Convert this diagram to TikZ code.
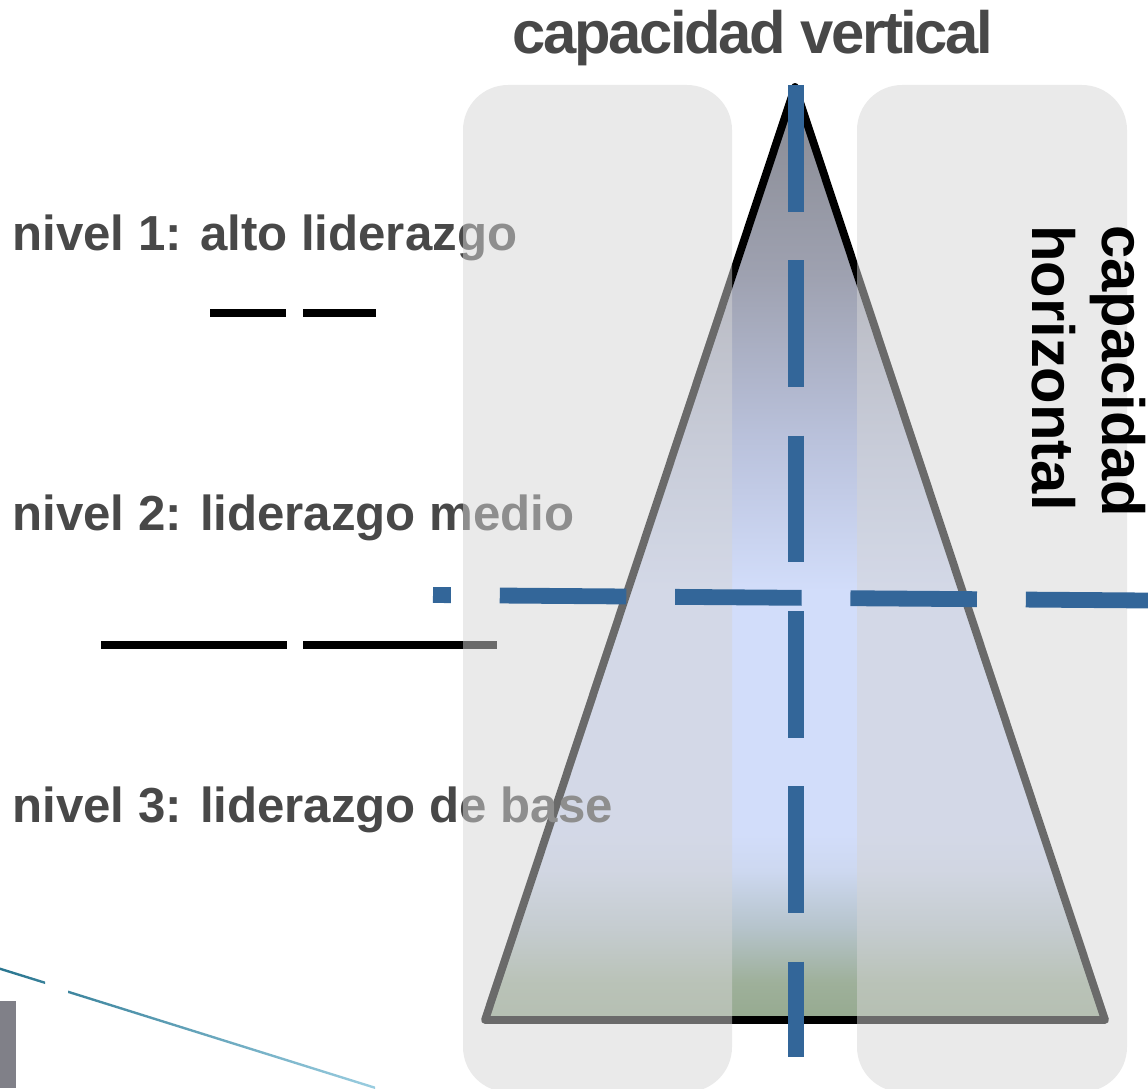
\documentclass[tikz,border=0pt]{standalone}
\usepackage{fontspec}
\setmainfont{Liberation Sans}
\usetikzlibrary{positioning}
\definecolor{txtgray}{HTML}{484848}
\definecolor{dashblue}{HTML}{336699}
\definecolor{veil}{HTML}{D5D5D5}
\definecolor{tritop}{HTML}{888A92}
\definecolor{triupper}{HTML}{9EA1B0}
\definecolor{trimid}{HTML}{BAC2DC}
\definecolor{trilight}{HTML}{D2DDFA}
\definecolor{trilow}{HTML}{CDD8F0}
\definecolor{trisage}{HTML}{B6C4CC}
\definecolor{trimoss}{HTML}{9EB09A}
\definecolor{trigreen}{HTML}{96AA90}
\definecolor{fragdark}{HTML}{2A7690}
\definecolor{fraglight}{HTML}{9ACDE0}
\definecolor{fraggray}{HTML}{808088}
\pgfdeclareverticalshading{pyramid}{100bp}{color(0bp)=(trigreen); color(25bp)=(trigreen);
  color(27bp)=(trimoss); color(30bp)=(trisage); color(33bp)=(trilow); color(35bp)=(trilight);
  color(48bp)=(trilight); color(56bp)=(trimid); color(65bp)=(triupper); color(75bp)=(tritop);
  color(100bp)=(tritop)}
\tikzset{
    level/.style={anchor=base west, text=txtgray, font=\fontsize{28}{32}\selectfont\bfseries, inner sep=0pt},
    levelbar/.style={line width=5pt},
    veilbox/.style={fill=veil, opacity=0.5, rounded corners=0.9cm},
    capdash/.style={dashblue, line width=9pt, dash pattern=on 72pt off 27.8pt},
    frag/.style={left color=fragdark, right color=fraglight, draw=none}
}

\begin{document}
\begin{tikzpicture}[x=0.02cm, y=-0.02cm]
    \useasboundingbox (0,0) rectangle (1148,1088);
    \coordinate (apex) at (795,87);
    \coordinate (bl) at (485,1020);
    \coordinate (br) at (1105,1020);
    \coordinate (vtop) at (796,85);
    \coordinate (vbot) at (796,1057);
    \coordinate (hleft) at (433,595);
    \coordinate (hright) at (1148,600.5);
    % pyramid
    \shade[shading=pyramid] (apex) -- (br) -- (bl) -- cycle;
    \draw[line width=4.5pt, line join=round] (apex) -- (br) -- (bl) -- cycle;
    % levels
    \node[level] (n1) at (12,250) {nivel 1: alto liderazgo};
    \node[level] (n2) at (12,530) {nivel 2: liderazgo medio};
    \node[level] (n3) at (12,822) {nivel 3: liderazgo de base};
    \draw[levelbar] (210,313) -- (286,313);
    \draw[levelbar] (303,313) -- (376,313);
    \draw[levelbar] (101,645) -- (287,645);
    \draw[levelbar] (303,645) -- (497,645);
    % veils
    \fill[veilbox] (463,85) rectangle (732,1092);
    \fill[veilbox] (857,85) rectangle (1127,1092);
    % axes
    \draw[capdash] (vtop) -- (vbot);
    \draw[capdash, dash phase=61.8pt] (hleft) -- (hright);
    \node[font=\fontsize{34}{38}\selectfont\bfseries\addfontfeature{LetterSpace=-3.9}, text=txtgray, anchor=base] (vcap) at (753,54) {capacidad vertical};
    \node[font=\fontsize{34}{40}\selectfont\bfseries, rotate=-90, align=left, anchor=north west] (hcap) at (1152,219) {capacidad\\horizontal};
    % leftovers
    \fill[fraggray] (0,1001) rectangle (16,1088);
    \shade[frag] (0,967.5) -- (45,981.5) -- (45,984) -- (0,970) -- cycle
        (68,990.5) -- (375,1086.5) -- (375,1089) -- (68,993) -- cycle;
\end{tikzpicture}
\end{document}
